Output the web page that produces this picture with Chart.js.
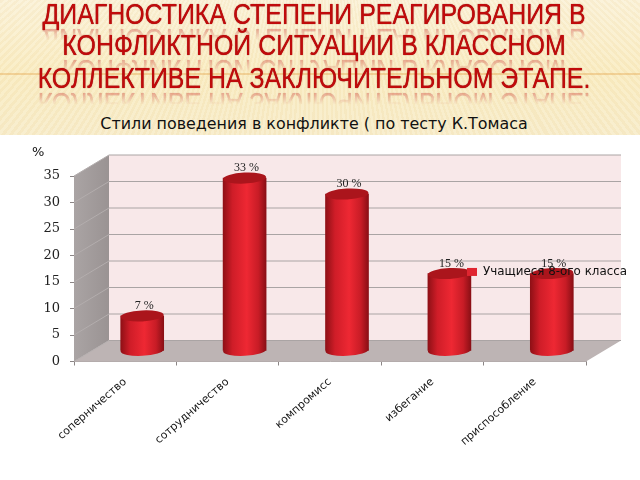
<!DOCTYPE html>
<html lang="ru">
<head>
<meta charset="utf-8">
<title>Стили поведения в конфликте</title>
<script src="https://cdn.jsdelivr.net/npm/chart.js@4"></script>
<style>
  html, body { margin: 0; width: 640px; height: 480px; overflow: hidden; background: #fff; }
  #header {
    position: absolute; left: 0; top: 0; width: 640px; height: 135px; overflow: hidden;
    background:
      linear-gradient(to bottom, transparent 73px, rgba(226,160,70,.75) 74px, transparent 75px),
      repeating-conic-gradient(from 150deg at 320px -260px, rgba(214,170,80,.07) 0 .35deg, rgba(255,255,255,.06) .35deg .7deg),
      linear-gradient(to bottom, #fbf2d9 0, #faedc4 55%, #f8edcc 100%);
  }
  .line {
    position: absolute; left: 314px; white-space: nowrap;
    font: 30px "Liberation Sans Narrow", "Liberation Sans", sans-serif;
    color: #c00b0b; text-shadow: 0 0 1px #8a0a0a;
    transform: translateX(-50%) scaleX(.83);
    -webkit-box-reflect: below -9px linear-gradient(transparent 45%, rgba(255,255,255,.5));
  }
  #subtitle {
    position: absolute; left: 0; top: 114px; width: 628px; text-align: center;
    font: 15.9px "DejaVu Sans", sans-serif; color: #111;
  }
  canvas { position: absolute; left: 0; top: 0; }
</style>
</head>
<body>
<div id="header">
  <div class="line" style="top:-3px">ДИАГНОСТИКА СТЕПЕНИ РЕАГИРОВАНИЯ В</div>
  <div class="line" style="top:28px">КОНФЛИКТНОЙ СИТУАЦИИ В КЛАССНОМ</div>
  <div class="line" style="top:61px">КОЛЛЕКТИВЕ НА ЗАКЛЮЧИТЕЛЬНОМ ЭТАПЕ.</div>
  <div id="subtitle">Стили поведения в конфликте ( по тесту К.Томаса</div>
</div>
<canvas id="chart" width="640" height="480"></canvas>
<script>
// Data
const categories = ['соперничество', 'сотрудничество', 'компромисс', 'избегание', 'приспособление'];
const values = [7, 33, 30, 15, 15];
const seriesName = 'Учащиеся 8-ого класса';
const yUnit = '%';

// Fake 3D depth of the box and of the bars, in pixels
const wallDx = 35, wallDy = -21;
const barDx = 17, barDy = -8.5;
const barWidth = 43, capRy = 5.5;

function barGradient(ctx, cx) {
  const g = ctx.createLinearGradient(cx - barWidth / 2, 0, cx + barWidth / 2, 0);
  g.addColorStop(0, '#8f1016');
  g.addColorStop(0.22, '#cf1d28');
  g.addColorStop(0.55, '#ee2833');
  g.addColorStop(0.82, '#c81c26');
  g.addColorStop(1, '#8a0f15');
  return g;
}

const boxPlugin = {
  id: 'box3d',
  // legend sits on top of the bars in the original
  beforeLayout(chart) {
    const legend = chart.legend;
    legend._layers = () => [{ z: 5, draw() { legend.draw(); } }];
  },
  afterLayout(chart) {
    const legend = chart.legend;
    legend.left = 463; legend.right = 630;
    legend.top = 262; legend.bottom = 280;
  },
  beforeDatasetsDraw(chart) {
    const { ctx, scales: { x, y } } = chart;
    const l = x.left, r = x.right, b = y.getPixelForValue(0), t = y.getPixelForValue(35);

    ctx.fillStyle = '#f8e8e9';
    ctx.fillRect(l + wallDx, t + wallDy, r - l, b - t);

    const side = ctx.createLinearGradient(l, 0, l + wallDx, 0);
    side.addColorStop(0, '#aaa4a4');
    side.addColorStop(1, '#9a9393');
    ctx.fillStyle = side;
    ctx.beginPath();
    ctx.moveTo(l, t);
    ctx.lineTo(l + wallDx, t + wallDy);
    ctx.lineTo(l + wallDx, b + wallDy);
    ctx.lineTo(l, b);
    ctx.fill();

    ctx.fillStyle = '#bdb4b4';
    ctx.beginPath();
    ctx.moveTo(l, b);
    ctx.lineTo(l + wallDx, b + wallDy);
    ctx.lineTo(r + wallDx, b + wallDy);
    ctx.lineTo(r, b);
    ctx.fill();

    // grid lines run along the side wall and the back wall
    y.ticks.forEach(tick => {
      const py = y.getPixelForValue(tick.value);
      ctx.strokeStyle = '#aaa4a4';
      ctx.lineWidth = 1;
      ctx.beginPath();
      ctx.moveTo(l + wallDx, py + wallDy);
      ctx.lineTo(r + wallDx, py + wallDy);
      ctx.stroke();
      ctx.strokeStyle = '#b3adad';
      ctx.beginPath();
      ctx.moveTo(l, py);
      ctx.lineTo(l + wallDx, py + wallDy);
      ctx.stroke();
    });

    ctx.save();
    ctx.translate(barDx, barDy);
  },
  afterDatasetsDraw(chart) {
    const { ctx } = chart;
    chart.getDatasetMeta(0).data.forEach(bar => {
      ctx.fillStyle = barGradient(ctx, bar.x);
      ctx.beginPath();
      ctx.ellipse(bar.x, bar.base, barWidth / 2, capRy, -0.05, 0, Math.PI * 2);
      ctx.fill();
      ctx.fillStyle = '#ab151c';
      ctx.beginPath();
      ctx.ellipse(bar.x, bar.y, barWidth / 2, capRy, -0.05, 0, Math.PI * 2);
      ctx.fill();
    });
    ctx.restore();

    ctx.fillStyle = '#222';
    ctx.font = '12px "Liberation Serif", serif';
    ctx.textAlign = 'center';
    ctx.textBaseline = 'middle';
    chart.getDatasetMeta(0).data.forEach((bar, i) => {
      ctx.fillText(values[i] + ' %', bar.x + barDx + 2, bar.y + barDy - 10);
    });

    ctx.fillStyle = '#111';
    ctx.font = '13px "DejaVu Sans", sans-serif';
    ctx.textAlign = 'left';
    ctx.fillText(yUnit, 32, 153);
  }
};

new Chart(document.getElementById('chart'), {
  type: 'bar',
  data: {
    labels: categories,
    datasets: [{
      label: seriesName,
      data: values,
      base: 0.5,
      barThickness: barWidth,
      borderWidth: 0,
      backgroundColor: c => {
        const x = c.chart.scales.x;
        if (!x) return '#e02530';
        return barGradient(c.chart.ctx, x.getPixelForValue(c.dataIndex));
      }
    }]
  },
  options: {
    responsive: false,
    animation: false,
    layout: { padding: { top: 176, left: 0, right: 54, bottom: 0 } },
    plugins: {
      tooltip: { enabled: false },
      legend: {
        position: 'chartArea',
        align: 'start',
        labels: {
          boxWidth: 10,
          boxHeight: 8,
          padding: 4,
          color: '#111',
          font: { family: '"DejaVu Sans", sans-serif', size: 11.9 },
          generateLabels: () => [{ text: seriesName, fillStyle: '#e02530', lineWidth: 0, strokeStyle: 'transparent', datasetIndex: 0 }]
        }
      }
    },
    scales: {
      x: {
        afterFit: s => { s.height = 118.5; },
        border: { color: '#aaa4a4' },
        grid: { drawOnChartArea: false, tickLength: 4, color: '#8b8585' },
        ticks: {
          minRotation: 41,
          maxRotation: 41,
          padding: 10,
          color: '#111',
          font: { family: '"DejaVu Sans", sans-serif', size: 11 }
        }
      },
      y: {
        min: 0,
        max: 35,
        afterFit: s => { s.width = 74; },
        border: { color: '#8b8585' },
        grid: { drawOnChartArea: false, tickLength: 4, color: '#8b8585' },
        ticks: {
          stepSize: 5,
          padding: 10,
          color: '#222',
          font: { family: '"DejaVu Serif", serif', size: 13 }
        }
      }
    }
  },
  plugins: [boxPlugin]
});
</script>
</body>
</html>
